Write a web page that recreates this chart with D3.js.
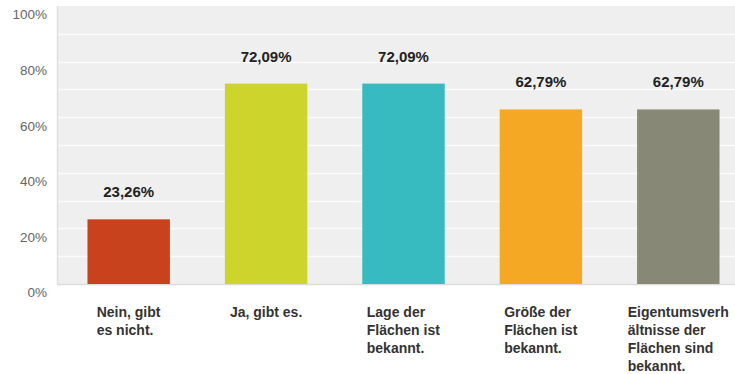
<!DOCTYPE html>
<html>
<head>
<meta charset="utf-8">
<script src="https://cdn.jsdelivr.net/npm/d3@7"></script>
<style>
  html, body { margin: 0; padding: 0; background: #ffffff; }
  svg { display: block; font-family: "Liberation Sans", Arial, Helvetica, sans-serif; }
</style>
</head>
<body>
<svg id="chart" width="735" height="374"></svg>
<script>
// Antworten und Anteile in Prozent
const categories = [
  ["Nein, gibt", "es nicht."],
  ["Ja, gibt es."],
  ["Lage der", "Flächen ist", "bekannt."],
  ["Größe der", "Flächen ist", "bekannt."],
  ["Eigentumsverh", "ältnisse der", "Flächen sind", "bekannt."]
];
const values = [23.26, 72.09, 72.09, 62.79, 62.79];
const valueLabels = ["23,26%", "72,09%", "72,09%", "62,79%", "62,79%"];
const colors = ["#c8431d", "#cdd42b", "#37bbc0", "#f5a823", "#888877"];
const tickValues = [0, 20, 40, 60, 80, 100];
const tickLabels = ["0%", "20%", "40%", "60%", "80%", "100%"];
const gridValues = [10, 20, 30, 40, 50, 60, 70, 80, 90];

const svg = d3.select("#chart");
const plot = { left: 57, right: 740, top: 6, bottom: 284 };

const y = d3.scaleLinear().domain([0, 100]).range([plot.bottom, plot.top]);
const x = d3.scaleBand()
  .domain(d3.range(values.length))
  .range([60, 747])
  .paddingInner(0.4)
  .paddingOuter(0.2);

// Plot background
svg.append("rect")
  .attr("x", plot.left).attr("y", plot.top)
  .attr("width", plot.right - plot.left).attr("height", plot.bottom - plot.top)
  .attr("fill", "#efefef");

// White grid lines every 10 %
svg.append("g")
  .selectAll("line")
  .data(gridValues)
  .join("line")
  .attr("x1", plot.left).attr("x2", plot.right)
  .attr("y1", d => Math.round(y(d)) + 0.5).attr("y2", d => Math.round(y(d)) + 0.5)
  .attr("stroke", "#fbfbfb").attr("stroke-width", 1.5);

// Left and bottom frame
svg.append("line")
  .attr("x1", plot.left + 0.5).attr("x2", plot.left + 0.5)
  .attr("y1", plot.top).attr("y2", plot.bottom)
  .attr("stroke", "#e0e0e0").attr("stroke-width", 1.5);
svg.append("line")
  .attr("x1", plot.left).attr("x2", plot.right)
  .attr("y1", plot.bottom + 0.5).attr("y2", plot.bottom + 0.5)
  .attr("stroke", "#dcdcdc").attr("stroke-width", 1.5);

// Y axis labels
const yAxis = d3.axisLeft(y)
  .tickValues(tickValues)
  .tickFormat((d, i) => tickLabels[i])
  .tickSize(0)
  .tickPadding(10);
const yg = svg.append("g").attr("transform", `translate(${plot.left},0)`).call(yAxis);
yg.select(".domain").remove();
yg.selectAll("text")
  .attr("dy", "0.95em")
  .attr("fill", "#666666")
  .style("font-size", "13.5px")
  .style("font-family", "'Liberation Sans', Arial, sans-serif");

// Bars
svg.append("g")
  .selectAll("rect")
  .data(values)
  .join("rect")
  .attr("x", (d, i) => x(i))
  .attr("width", x.bandwidth())
  .attr("y", d => y(d))
  .attr("height", d => y(0) - y(d))
  .attr("fill", (d, i) => colors[i]);

// Value labels above bars
svg.append("g")
  .selectAll("text")
  .data(values)
  .join("text")
  .attr("x", (d, i) => x(i) + x.bandwidth() / 2)
  .attr("y", d => y(d) - 22)
  .attr("text-anchor", "middle")
  .attr("fill", "#222222")
  .style("font-size", "15px")
  .style("font-weight", "bold")
  .text((d, i) => valueLabels[i]);

// Category labels: left-aligned block, centred under each bar
const catG = svg.append("g");
categories.forEach((lines, i) => {
  const t = catG.append("text")
    .attr("fill", "#333333")
    .style("font-size", "14px")
    .style("font-weight", "bold");
  lines.forEach((line, j) => {
    t.append("tspan")
      .attr("x", 0)
      .attr("y", 317 + j * 18)
      .text(line);
  });
  const w = t.node().getBBox().width;
  t.attr("transform", `translate(${x(i) + x.bandwidth() / 2 - w / 2},0)`);
});
</script>
</body>
</html>
